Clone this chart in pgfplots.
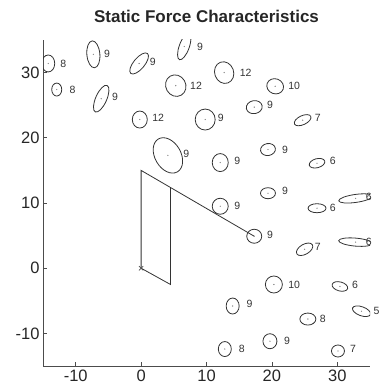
\documentclass[border=0pt]{standalone}
\usepackage{pgfplots}
\usepackage{pgfplotstable}
\pgfplotsset{compat=1.18}
\usepackage{fontspec}
\setmainfont{Liberation Sans}

\pgfdeclareplotmark{forceell}{%
  \pgfpathellipse{\pgfpointorigin}{\pgfpointpolar{\eang}{\erx pt}}{\pgfpointpolar{\eangb}{\ery pt}}%
  \pgfusepathqstroke
}

\pgfplotstableread{
x y rx ry ang angb
-14.2 31.4 6.5 8.5 0 90
-7.3 32.8 6.5 13.5 5 95
-0.3 31.4 13 5.5 50 140
-12.9 27.4 5 6.5 0 90
-6.1 26.0 14.5 5.5 66 156
-0.2 22.8 7.5 8.5 0 90
6.6 34.0 14 5 70 160
5.3 28.0 10 11 30 120
12.7 30.0 9.5 11 20 110
20.5 27.9 8.5 7.5 -20 70
17.3 24.7 8 6.5 10 100
24.7 22.7 9 4.5 25 115
9.8 22.8 10 10.5 0 90
4.1 17.3 19 13 -60 30
12.1 16.2 8 9 0 90
19.4 18.2 7.5 6 10 100
26.9 16.1 8 4.5 15 105
19.4 11.5 7.5 5.5 0 90
12.1 9.5 8 8 0 90
26.9 9.2 9 4.5 0 90
32.8 10.7 17 4 8 98
17.3 4.9 7.5 7 0 90
25.0 2.9 9 5 30 120
32.8 4.0 17 4 -5 85
20.3 -2.5 8.5 8.5 0 90
30.4 -2.8 8 4.5 -15 75
14.0 -5.8 6.5 8 0 90
33.7 -6.6 9.5 4.5 -20 70
25.5 -7.8 8 6 0 90
19.7 -11.2 7 7.5 0 90
12.8 -12.4 6.5 7.5 0 90
30.1 -12.7 6.5 6 0 90
}\ellipses

\pgfplotstableread{
x y lab
-11.9 31.4 8
-5.2 32.8 9
1.8 31.7 9
-10.5 27.4 8
-4.0 26.3 9
2.6 23.0 12
9.0 34.0 9
8.4 28.0 12
16.0 29.9 12
23.4 27.9 10
19.7 25.1 9
27.0 23.0 7
12.2 23.0 9
6.9 17.6 9
14.7 16.4 9
22.0 18.2 9
29.3 16.4 6
22.0 11.8 9
14.7 9.5 9
29.3 9.2 6
34.8 11.0 6
19.7 5.1 9
27.0 3.2 7
34.8 4.1 6
23.4 -2.5 10
32.7 -2.6 6
16.6 -5.5 9
36.0 -6.6 5
27.8 -7.8 8
22.3 -11.2 9
15.4 -12.3 8
32.4 -12.4 7
}\labels

\begin{document}
\begin{tikzpicture}
\begin{axis}[
  scale only axis, width=327pt, height=326pt,
  xmin=-15, xmax=35, ymin=-15, ymax=35,
  axis lines=left, axis line style={-, black!70, line width=0.8pt},
  tick align=inside, major tick length=4pt,
  tick style={black!70, line width=0.7pt},
  xtick={-10,0,10,20,30}, xticklabels={-10,0,10,20,30},
  ytick={-10,0,10,20,30}, yticklabels={-10,0,10,20,30},
  tick label style={font=\fontsize{16.5}{18}\selectfont, text=black!85},
  title={Static Force Characteristics},
  title style={font=\fontsize{17}{20}\selectfont\bfseries, text=black!85, yshift=8pt},
  clip marker paths=true,
]
\addplot[black!80, line width=0.8pt] coordinates {(4.5,12.4) (4.5,-2.5) (0,0) (0,15) (17.3,4.9)};
\addplot[only marks, mark=x, mark size=3pt, black!70, line width=0.7pt] coordinates {(0,0)};
\addplot[
  only marks, mark=forceell, black!80, line width=0.8pt,
  visualization depends on={\thisrow{rx}\as\erx},
  visualization depends on={\thisrow{ry}\as\ery},
  visualization depends on={\thisrow{ang}\as\eang},
  visualization depends on={\thisrow{angb}\as\eangb},
] table[x=x, y=y] {\ellipses};
\addplot[only marks, mark=*, mark size=0.4pt, black!45] table[x=x, y=y] {\ellipses};
\end{axis}
\begin{axis}[
  scale only axis, width=327pt, height=326pt,
  xmin=-15, xmax=35, ymin=-15, ymax=35,
  hide axis, clip=false,
]
\addplot[draw=none, mark=none, nodes near coords, point meta=explicit symbolic,
  every node near coord/.style={anchor=center, inner sep=0pt, font=\fontsize{10.5}{12}\selectfont, text=black!80}]
  table[x=x, y=y, meta=lab] {\labels};
\end{axis}
\pgfresetboundingbox
\path ([shift={(-43pt,-23pt)}]current axis.south west) rectangle ([shift={(9pt,40pt)}]current axis.north east);
\end{tikzpicture}
\end{document}
